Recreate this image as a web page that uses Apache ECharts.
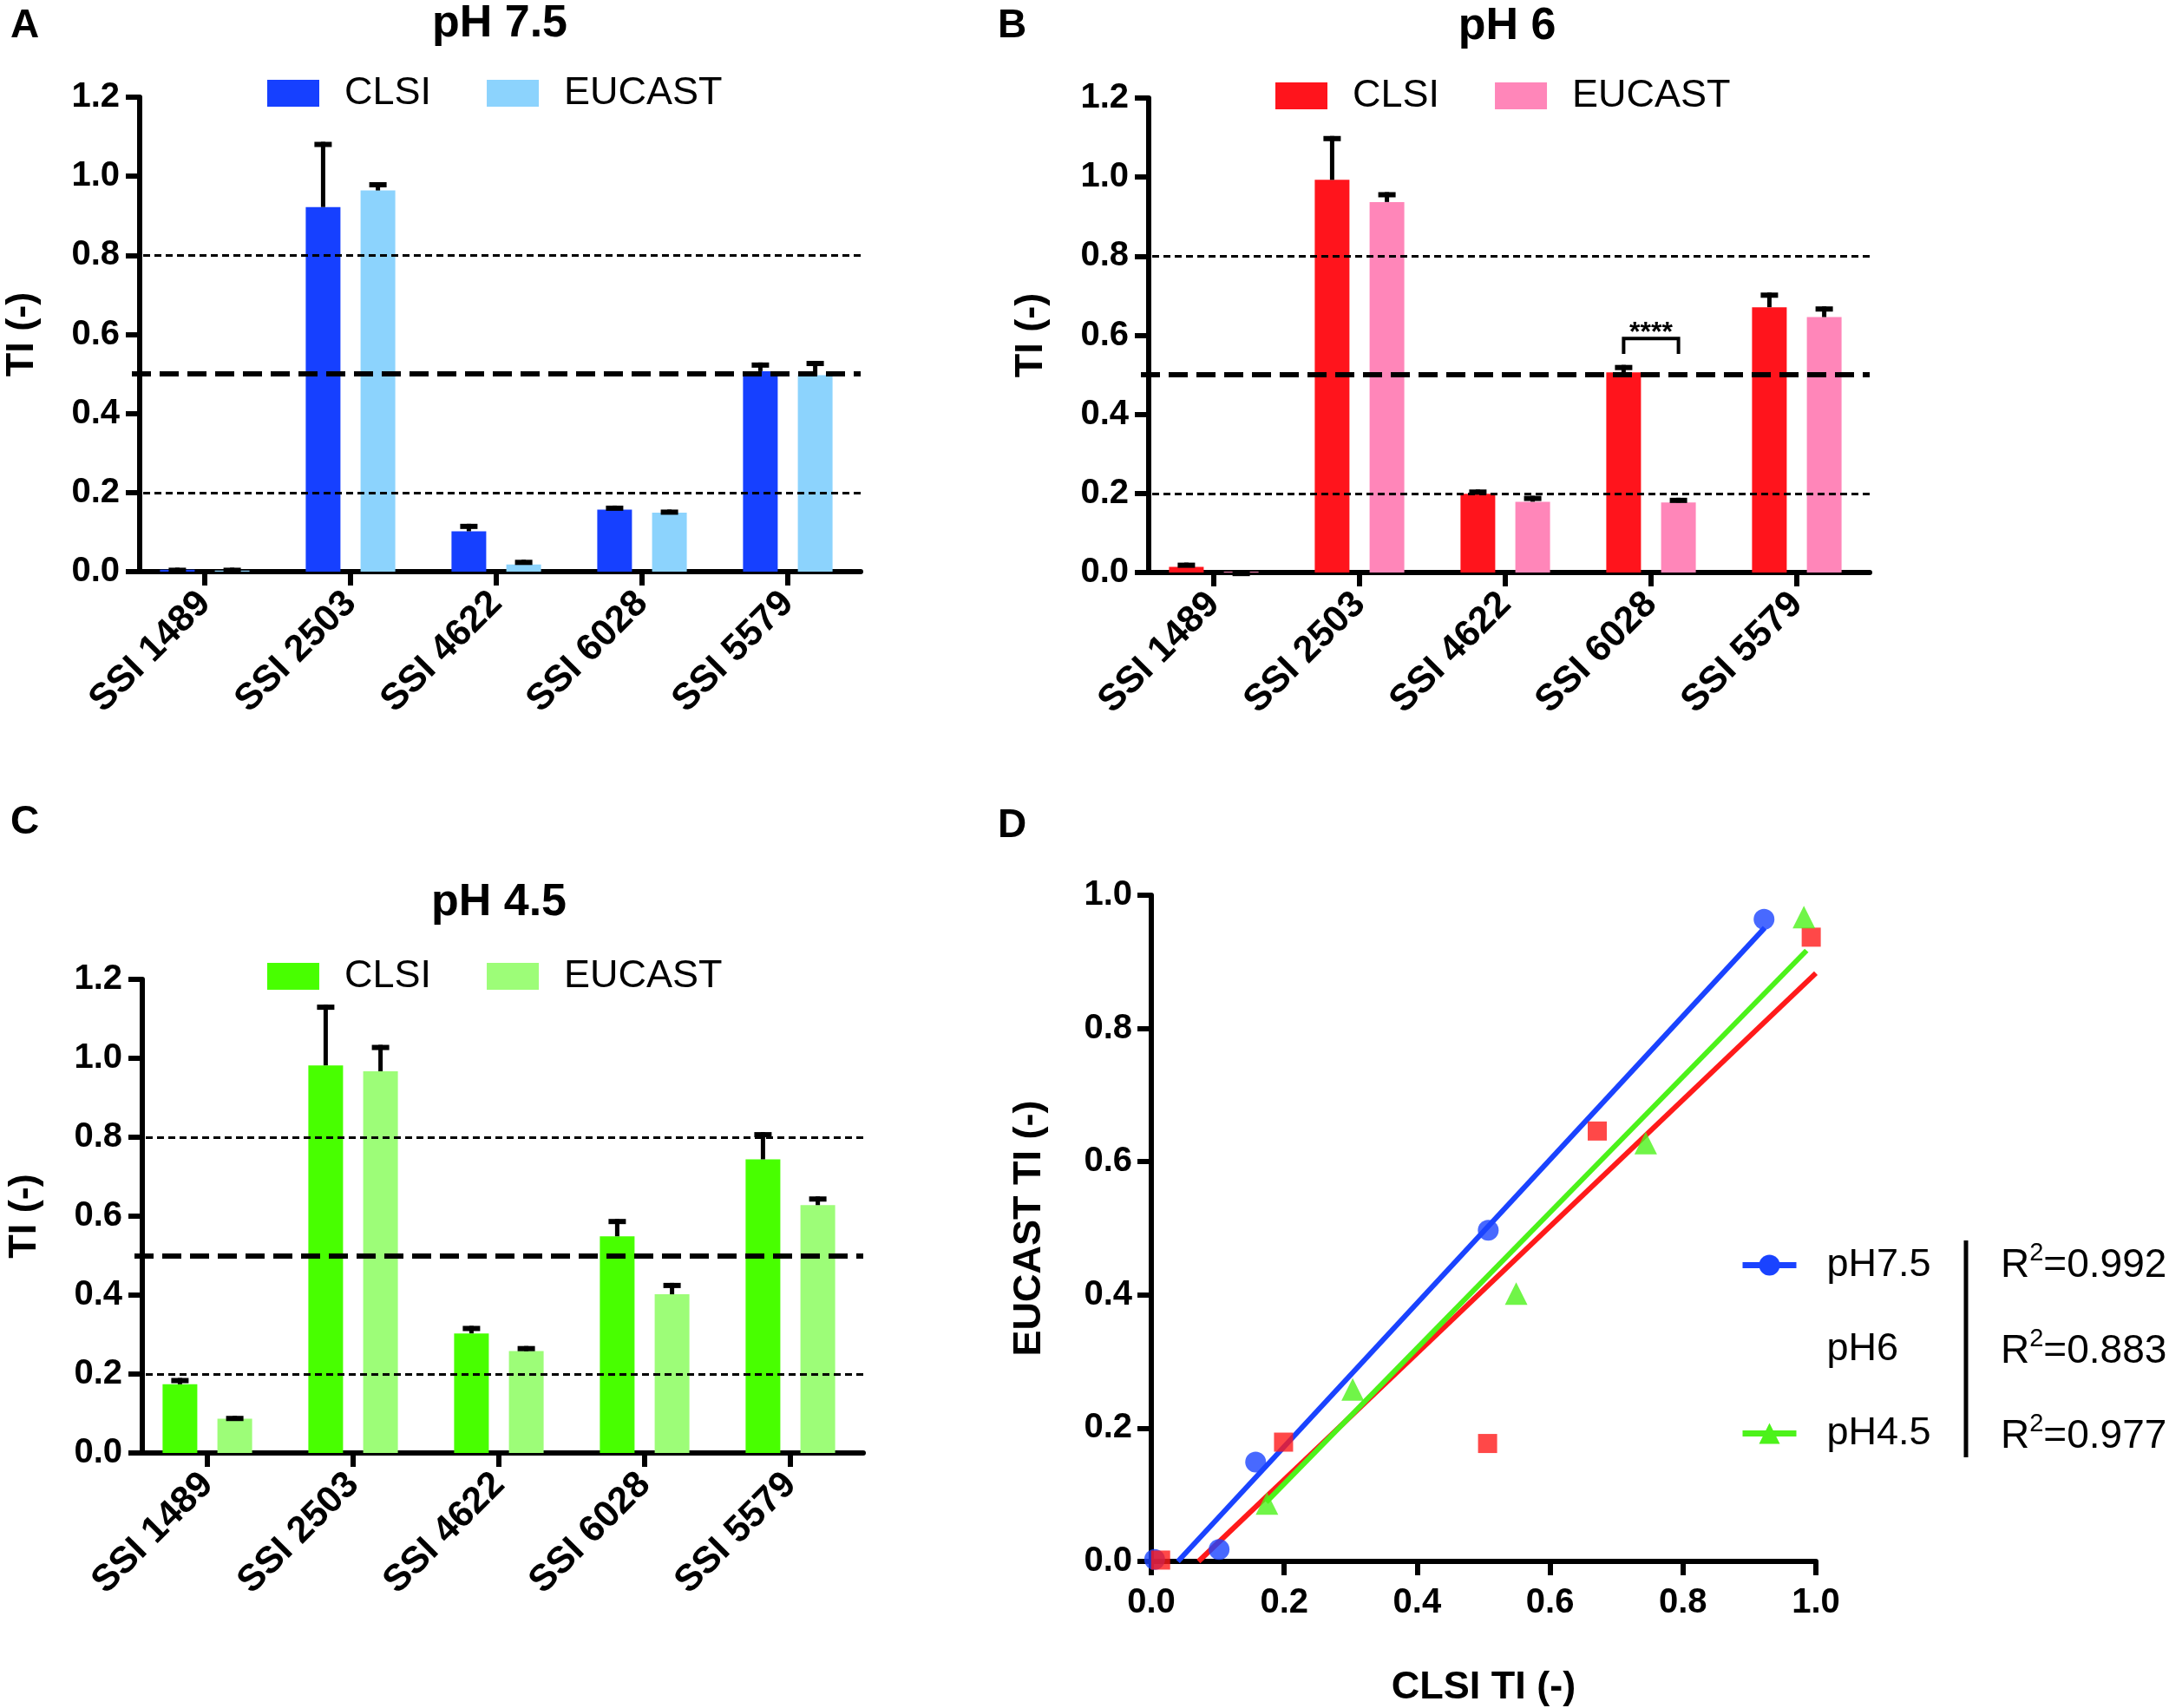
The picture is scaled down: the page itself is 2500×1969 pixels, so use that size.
<!DOCTYPE html>
<html><head><meta charset="utf-8">
<script src="https://cdn.jsdelivr.net/npm/echarts@6/dist/echarts.min.js"></script>
<style>html,body{margin:0;padding:0;background:#fff}#c{width:2500px;height:1969px}</style>
</head><body><div id="c"></div>
<script>
const F = "'Liberation Sans', Arial, Helvetica, sans-serif";

const categories = ['SSI 1489', 'SSI 2503', 'SSI 4622', 'SSI 6028', 'SSI 5579'];
const yTickFormat = v => v.toFixed(1);

const ph75Clsi      = [0.005, 0.922, 0.102, 0.157, 0.507];
const ph75ClsiErr   = [0.005, 0.165, 0.019, 0.010, 0.022];
const ph75Eucast    = [0.003, 0.964, 0.018, 0.149, 0.497];
const ph75EucastErr = [0.007, 0.021, 0.012, 0.008, 0.036];

const ph6Clsi       = [0.014, 0.993, 0.199, 0.506, 0.671];
const ph6ClsiErr    = [0.011, 0.111, 0.011, 0.019, 0.037];
const ph6Eucast     = [0.002, 0.937, 0.179, 0.177, 0.646];
const ph6EucastErr  = [0.002, 0.025, 0.015, 0.012, 0.027];

const ph45Clsi      = [0.174, 0.982, 0.303, 0.549, 0.744];
const ph45ClsiErr   = [0.016, 0.154, 0.019, 0.044, 0.069];
const ph45Eucast    = [0.087, 0.967, 0.258, 0.402, 0.628];
const ph45EucastErr = [0.007, 0.067, 0.013, 0.029, 0.022];

const refThin = [0.2, 0.8];
const refThick = [0.5];
const sigBracket = [3, 0.553, 0.592];   // category index, leg bottom, bracket top
const sigLabel = '****';

const fit75 = [[0.040, 0.000], [0.923, 0.951]];
const fit6  = [[0.071, 0.000], [1.000, 0.883]];
const fit45 = [[0.173, 0.089], [0.986, 0.917]];
const rSquared = ['0.992', '0.883', '0.977'];

const C = {
  a1: '#1640ff', a2: '#8cd3fd',
  b1: '#ff141c', b2: '#ff86b9',
  c1: '#48ff00', c2: '#9dfd78',
  dBlue: '#1a43ff', dRed: '#ff1a1a', dGreen: '#4cf21a'
};

const chart = echarts.init(document.getElementById('c'));

const grids = [
  {left: 152, top: 112, width: 840, height: 547},
  {left: 1315, top: 113, width: 840, height: 547},
  {left: 155, top: 1129, width: 840, height: 546},
  {left: 1327, top: 1032, width: 766, height: 768}
];

const axisLineStyle = {show: true, lineStyle: {color: '#000', width: 6}};
const axisTickStyle = {show: true, length: 16, lineStyle: {color: '#000', width: 6}};
const tickFont = {fontSize: 40, fontWeight: 'bold', color: '#000', fontFamily: F};
const catFont = {fontSize: 43, fontWeight: 'bold', color: '#000', fontFamily: F};
const nameFont = {fontSize: 45, fontWeight: 'bold', color: '#000', fontFamily: F};

const xAxes = [], yAxes = [];
[0, 1, 2].forEach(k => {
  xAxes.push({
    type: 'category', gridIndex: k, data: categories,
    axisLine: axisLineStyle,
    axisTick: Object.assign({alignWithLabel: true}, axisTickStyle),
    axisLabel: Object.assign({rotate: 45, margin: 30, interval: 0}, catFont),
    splitLine: {show: false}
  });
  yAxes.push({
    type: 'value', gridIndex: k, min: 0, max: 1.2, interval: 0.2, offset: -9,
    name: 'TI (-)', nameLocation: 'middle', nameGap: 113, nameTextStyle: nameFont,
    axisLine: axisLineStyle, axisTick: axisTickStyle,
    axisLabel: Object.assign({margin: 23, formatter: yTickFormat}, tickFont),
    splitLine: {show: false}
  });
});
xAxes.push({
  type: 'value', gridIndex: 3, min: 0, max: 1, interval: 0.2,
  name: 'CLSI TI (-)', nameLocation: 'middle', nameGap: 123, nameTextStyle: nameFont,
  axisLine: axisLineStyle, axisTick: axisTickStyle,
  axisLabel: Object.assign({margin: 28, formatter: yTickFormat}, tickFont),
  splitLine: {show: false}
});
yAxes.push({
  type: 'value', gridIndex: 3, min: 0, max: 1, interval: 0.2,
  name: 'EUCAST TI (-)', nameLocation: 'middle', nameGap: 118, nameTextStyle: nameFont,
  axisLine: axisLineStyle, axisTick: axisTickStyle,
  axisLabel: Object.assign({margin: 22, formatter: yTickFormat}, tickFont),
  splitLine: {show: false}
});

function errRender(offset) {
  return function (params, api) {
    const base = api.coord([api.value(0), api.value(1)]);
    const top = api.coord([api.value(0), api.value(2)]);
    const x = base[0] + offset;
    return {
      type: 'group',
      children: [
        {type: 'line', shape: {x1: x, y1: base[1], x2: x, y2: top[1]}, style: {stroke: '#000', lineWidth: 5}},
        {type: 'line', shape: {x1: x - 10, y1: top[1] + 3, x2: x + 10, y2: top[1] + 3}, style: {stroke: '#000', lineWidth: 6}}
      ]
    };
  };
}

const refMarkLine = {
  symbol: 'none', silent: true, label: {show: false},
  lineStyle: {color: '#000'},
  data: refThin.map(v => ({yAxis: v, lineStyle: {type: [8, 5], width: 3, color: '#000'}}))
    .concat(refThick.map(v => ({yAxis: v, lineStyle: {type: [22, 10], width: 6, color: '#000'}})))
};

const series = [];
const legends = [];
function barPanel(k, tag, clsi, clsiErr, euc, eucErr, c1, c2, legLeft, legTop) {
  series.push({
    type: 'bar', name: tag + '-CLSI', xAxisIndex: k, yAxisIndex: k, data: clsi,
    barWidth: 40, barGap: '58%', itemStyle: {color: c1}, z: 2
  });
  series.push({
    type: 'bar', name: tag + '-EUCAST', xAxisIndex: k, yAxisIndex: k, data: euc,
    barWidth: 40, barGap: '58%', itemStyle: {color: c2}, z: 2, markLine: refMarkLine
  });
  series.push({
    type: 'custom', xAxisIndex: k, yAxisIndex: k, silent: true, z: 5,
    data: clsi.map((v, i) => [i, v, v + clsiErr[i]]), renderItem: errRender(-31.6)
  });
  series.push({
    type: 'custom', xAxisIndex: k, yAxisIndex: k, silent: true, z: 5,
    data: euc.map((v, i) => [i, v, v + eucErr[i]]), renderItem: errRender(31.6)
  });
  legends.push({
    data: [tag + '-CLSI', tag + '-EUCAST'], left: legLeft, top: legTop,
    icon: 'rect', itemWidth: 60, itemHeight: 31, itemGap: 64, selectedMode: false,
    formatter: n => n.slice(tag.length + 1),
    textStyle: {fontSize: 45, color: '#000', fontFamily: F, lineHeight: 31, padding: [0, 0, 0, 24]}
  });
}
barPanel(0, 'A', ph75Clsi, ph75ClsiErr, ph75Eucast, ph75EucastErr, C.a1, C.a2, 303, 80);
barPanel(1, 'B', ph6Clsi, ph6ClsiErr, ph6Eucast, ph6EucastErr, C.b1, C.b2, 1465, 83);
barPanel(2, 'C', ph45Clsi, ph45ClsiErr, ph45Eucast, ph45EucastErr, C.c1, C.c2, 303, 1098);

// significance bracket in panel B
series.push({
  type: 'custom', xAxisIndex: 1, yAxisIndex: 1, silent: true, z: 6,
  data: [sigBracket],
  renderItem: function (params, api) {
    const top = api.coord([api.value(0), api.value(2)]);
    const bot = api.coord([api.value(0), api.value(1)]);
    const x1 = top[0] - 31.6, x2 = top[0] + 31.6;
    return {
      type: 'group',
      children: [
        {type: 'polyline', shape: {points: [[x1, bot[1]], [x1, top[1]], [x2, top[1]], [x2, bot[1]]]},
         style: {stroke: '#000', lineWidth: 4, fill: null}},
        {type: 'text', x: top[0], y: top[1] + 10,
         style: {text: sigLabel, font: 'bold 32px ' + F, fill: '#000', align: 'center', verticalAlign: 'bottom'}}
      ]
    };
  }
});

// panel D
const dSets = [
  {name: 'pH7.5', fit: fit75, x: ph75Clsi, y: ph75Eucast, color: C.dBlue, symbol: 'circle', size: 24},
  {name: 'pH6', fit: fit6, x: ph6Clsi, y: ph6Eucast, color: C.dRed, symbol: 'rect', size: 22},
  {name: 'pH4.5', fit: fit45, x: ph45Clsi, y: ph45Eucast, color: C.dGreen, symbol: 'triangle', size: 26}
];
dSets.forEach(s => {
  series.push({
    type: 'line', name: s.name, xAxisIndex: 3, yAxisIndex: 3, data: s.fit,
    symbol: s.symbol, symbolSize: s.size, showSymbol: false,
    lineStyle: {width: 6, color: s.color}, itemStyle: {color: s.color}, z: 2, silent: true
  });
});
dSets.forEach(s => {
  series.push({
    type: 'scatter', name: s.name, xAxisIndex: 3, yAxisIndex: 3,
    data: s.x.map((v, i) => [v, s.y[i]]),
    symbol: s.symbol, symbolSize: s.size, itemStyle: {color: s.color}, z: 3, silent: true
  });
});
legends.push({
  data: [
    {name: 'pH7.5', lineStyle: {width: 7}},
    {name: 'pH6', itemStyle: {opacity: 0}, lineStyle: {opacity: 0}},
    {name: 'pH4.5', lineStyle: {width: 7}}
  ],
  orient: 'vertical', left: 2000, top: 1431, itemWidth: 62, itemHeight: 30, itemGap: 52,
  selectedMode: false,
  textStyle: {fontSize: 45, color: '#000', fontFamily: F, lineHeight: 30, padding: [0, 0, 0, 30]}
});

const titleFont = 'bold 52px ' + F;
const letterFont = 'bold 46px ' + F;
const graphic = [
  {type: 'text', x: 576, y: 28, style: {text: 'pH 7.5', font: titleFont, fill: '#000', align: 'center', verticalAlign: 'middle'}},
  {type: 'text', x: 1737, y: 31, style: {text: 'pH 6', font: titleFont, fill: '#000', align: 'center', verticalAlign: 'middle'}},
  {type: 'text', x: 575, y: 1041, style: {text: 'pH 4.5', font: titleFont, fill: '#000', align: 'center', verticalAlign: 'middle'}},
  {type: 'text', x: 12, y: 30, style: {text: 'A', font: letterFont, fill: '#000', align: 'left', verticalAlign: 'middle'}},
  {type: 'text', x: 1150, y: 30, style: {text: 'B', font: letterFont, fill: '#000', align: 'left', verticalAlign: 'middle'}},
  {type: 'text', x: 12, y: 948, style: {text: 'C', font: letterFont, fill: '#000', align: 'left', verticalAlign: 'middle'}},
  {type: 'text', x: 1150, y: 952, style: {text: 'D', font: letterFont, fill: '#000', align: 'left', verticalAlign: 'middle'}},
  {type: 'line', shape: {x1: 2266, y1: 1430, x2: 2266, y2: 1680}, style: {stroke: '#000', lineWidth: 5}}
];
const rowY = [1456, 1555, 1653];
rSquared.forEach((r, i) => {
  graphic.push({
    type: 'text', x: 2306, y: rowY[i],
    style: {
      text: '{b|R}{s|2}{b|=' + r + '}',
      verticalAlign: 'middle', align: 'left',
      rich: {
        b: {fontSize: 46, fontFamily: F, fill: '#000', color: '#000', lineHeight: 52, verticalAlign: 'bottom'},
        s: {fontSize: 29, fontFamily: F, fill: '#000', color: '#000', lineHeight: 52, verticalAlign: 'top'}
      }
    }
  });
});

chart.setOption({
  animation: false,
  backgroundColor: '#fff',
  grid: grids,
  xAxis: xAxes,
  yAxis: yAxes,
  legend: legends,
  series: series,
  graphic: graphic
});
</script>
</body></html>
